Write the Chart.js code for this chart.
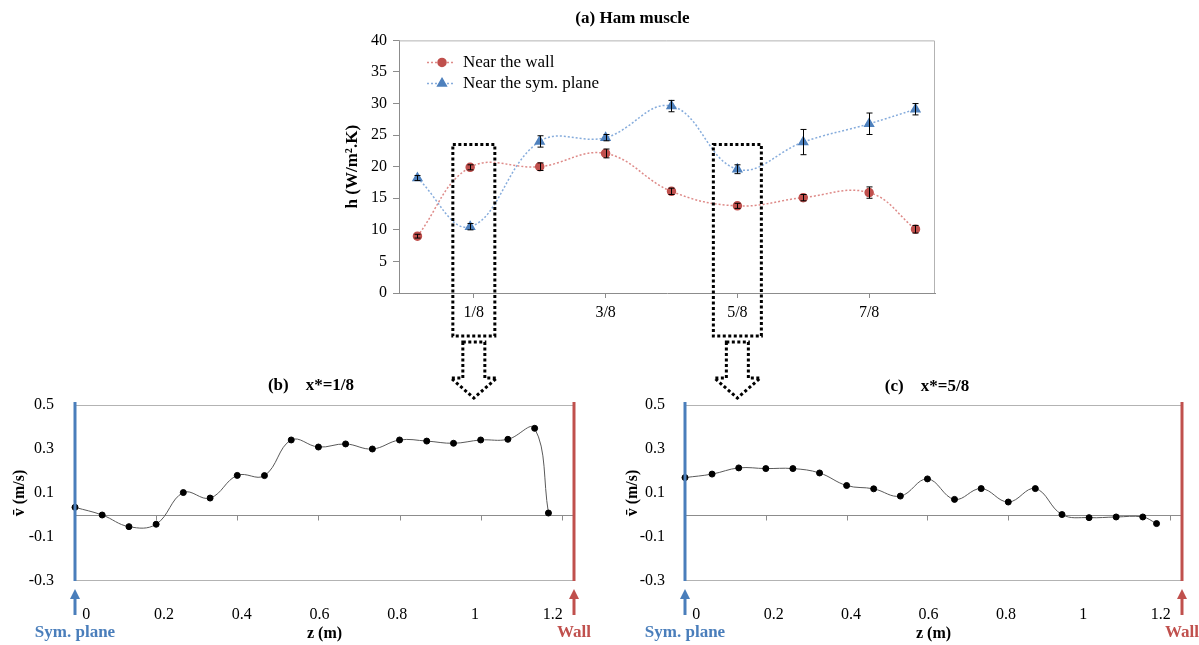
<!DOCTYPE html>
<html>
<head>
<meta charset="utf-8">
<title>Ham muscle - h and mean velocity</title>
<script src="https://cdn.jsdelivr.net/npm/chart.js@4.4.1/dist/chart.umd.min.js"></script>
<style>
    body { margin: 0; background: #fff; width: 1199px; height: 645px; overflow: hidden; position: relative; }
    canvas { position: absolute; }
    #hamChart { left: 330px; top: 0; }
    #cutB { left: 0; top: 370px; }
    #cutC { left: 610px; top: 370px; }
</style>
</head>
<body>
<canvas id="hamChart" width="640" height="400"></canvas>
<canvas id="cutB" width="620" height="275"></canvas>
<canvas id="cutC" width="589" height="275"></canvas>
<script>
const serif = '"Liberation Serif", "Times New Roman", serif';
Chart.defaults.font.family = serif;
Chart.defaults.color = '#000';
Chart.defaults.animation = false;

// (a) heat transfer coefficient along the muscle
const xStar = [0.018, 0.118, 0.25, 0.375, 0.5, 0.625, 0.75, 0.875, 0.963];
const hWall = [9.0, 19.9, 20.0, 22.1, 16.1, 13.8, 15.1, 15.9, 10.1];
const hWallErr = [0.3, 0.4, 0.6, 0.7, 0.5, 0.4, 0.5, 0.9, 0.6];
const hSym = [18.2, 10.5, 24.0, 24.6, 29.6, 19.6, 23.9, 26.8, 29.1];
const hSymErr = [0.4, 0.5, 0.9, 0.5, 0.9, 0.7, 2.0, 1.7, 0.9];
const xStarTicks = [0.125, 0.375, 0.625, 0.875];
const xStarLabels = ['1/8', '3/8', '5/8', '7/8'];
const cutPositions = [0.125, 0.625];

// (b), (c) mean velocity across the width, at x* = 1/8 and x* = 5/8
const zPos = [0, 0.067, 0.133, 0.2, 0.267, 0.333, 0.4, 0.467, 0.533, 0.6,
              0.667, 0.733, 0.8, 0.867, 0.933, 1.0, 1.067, 1.133, 1.167];
const vCut1 = [0.035, 0.0, -0.053, -0.042, 0.102, 0.077, 0.180, 0.179, 0.341, 0.309,
               0.323, 0.300, 0.341, 0.336, 0.326, 0.341, 0.344, 0.394, 0.009];
const vCut5 = [0.170, 0.186, 0.214, 0.211, 0.211, 0.191, 0.134, 0.119, 0.086, 0.164,
               0.071, 0.120, 0.059, 0.120, 0.002, -0.012, -0.009, -0.009, -0.039];
const zTicks = [0, 0.2, 0.4, 0.6, 0.8, 1, 1.2];
const zLabels = ['0', '0.2', '0.4', '0.6', '0.8', '1', '1.2'];
const vTicks = [-0.3, -0.1, 0.1, 0.3, 0.5];
const vLabels = ['-0.3', '-0.1', '0.1', '0.3', '0.5'];

function points(xs, ys) {
    return xs.map((x, i) => ({ x: x, y: ys[i] }));
}

function fixTicks(values) {
    return scale => { scale.ticks = values.map(v => ({ value: v })); };
}

const errorBars = {
    id: 'errorBars',
    afterDatasetsDraw(chart) {
        const { ctx, scales: { x, y } } = chart;
        ctx.save();
        ctx.strokeStyle = '#000';
        ctx.lineWidth = 1;
        chart.data.datasets.forEach(ds => {
            if (!ds.errors) return;
            ds.data.forEach((p, i) => {
                const px = Math.round(x.getPixelForValue(p.x)) + 0.5;
                const top = y.getPixelForValue(p.y + ds.errors[i]);
                const bot = y.getPixelForValue(p.y - ds.errors[i]);
                ctx.beginPath();
                ctx.moveTo(px, top); ctx.lineTo(px, bot);
                ctx.moveTo(px - 3, top); ctx.lineTo(px + 3, top);
                ctx.moveTo(px - 3, bot); ctx.lineTo(px + 3, bot);
                ctx.stroke();
            });
        });
        ctx.restore();
    }
};

const hamExtras = {
    id: 'hamExtras',
    beforeDatasetsDraw(chart) {
        const { ctx, chartArea: a } = chart;
        ctx.save();
        ctx.strokeStyle = '#b3b3b3';
        ctx.lineWidth = 1;
        ctx.beginPath();
        ctx.moveTo(a.left, a.top + 0.5);
        ctx.lineTo(a.right - 0.5, a.top + 0.5);
        ctx.lineTo(a.right - 0.5, a.bottom);
        ctx.stroke();
        ctx.restore();
    },
    afterDraw(chart) {
        const { ctx, chartArea: a, scales: { x, y } } = chart;
        ctx.save();
        // legend inside the plot
        chart.data.datasets.forEach((ds, i) => {
            const ly = a.top + 22 + i * 21;
            ctx.strokeStyle = ds.borderColor;
            ctx.lineWidth = 1.5;
            ctx.setLineDash(ds.borderDash);
            ctx.beginPath();
            ctx.moveTo(a.left + 28, ly);
            ctx.lineTo(a.left + 56, ly);
            ctx.stroke();
            ctx.setLineDash([]);
            ctx.fillStyle = ds.pointBackgroundColor;
            ctx.strokeStyle = ds.pointBorderColor;
            Chart.helpers.drawPoint(ctx, { pointStyle: ds.pointStyle, radius: ds.pointRadius, rotation: 0, borderWidth: 1 }, a.left + 43, ly);
            ctx.fillStyle = '#000';
            ctx.font = '17px ' + serif;
            ctx.textAlign = 'left';
            ctx.textBaseline = 'middle';
            ctx.fillText(ds.label, a.left + 64, ly);
        });
        // dotted frames on the two cuts, with arrows down to (b) and (c)
        ctx.strokeStyle = '#000';
        ctx.lineWidth = 3;
        ctx.setLineDash([3, 2.5]);
        cutPositions.forEach((v, i) => {
            const cx = x.getPixelForValue(v);
            const hw = i === 0 ? 21 : 24;
            const top = y.getPixelForValue(23.5);
            const bot = a.bottom + 43;
            ctx.strokeRect(cx - hw, top, 2 * hw, bot - top);
            const s0 = a.bottom + 49, s1 = a.bottom + 85, tip = a.bottom + 105;
            ctx.beginPath();
            ctx.moveTo(cx - 11, s0);
            ctx.lineTo(cx - 11, s1);
            ctx.lineTo(cx - 23, s1);
            ctx.lineTo(cx, tip);
            ctx.lineTo(cx + 23, s1);
            ctx.lineTo(cx + 11, s1);
            ctx.lineTo(cx + 11, s0);
            ctx.closePath();
            ctx.stroke();
        });
        ctx.restore();
    }
};

const profileExtras = {
    id: 'profileExtras',
    beforeDatasetsDraw(chart) {
        const { ctx, chartArea: a, scales: { x, y } } = chart;
        const y0 = Math.round(y.getPixelForValue(0)) + 0.5;
        ctx.save();
        ctx.strokeStyle = '#b3b3b3';
        ctx.lineWidth = 1;
        ctx.strokeRect(a.left + 0.5, a.top + 0.5, a.width - 1, a.height - 1);
        ctx.strokeStyle = '#8c8c8c';
        ctx.beginPath();
        ctx.moveTo(a.left, y0);
        ctx.lineTo(a.right, y0);
        zTicks.forEach(v => {
            const px = Math.round(x.getPixelForValue(v)) + 0.5;
            ctx.moveTo(px, y0);
            ctx.lineTo(px, y0 + 5);
        });
        ctx.stroke();
        ctx.restore();
    },
    afterDraw(chart, args, opts) {
        const { ctx, chartArea: a } = chart;
        ctx.save();
        [[a.left, '#4a7ebb', 'Sym. plane'], [a.right, '#c0504d', 'Wall']].forEach(([px, color, text]) => {
            ctx.strokeStyle = color;
            ctx.fillStyle = color;
            ctx.lineWidth = 3;
            ctx.beginPath();
            ctx.moveTo(px, a.top - 3);
            ctx.lineTo(px, a.bottom);
            ctx.stroke();
            // upward arrow under the side line
            ctx.beginPath();
            ctx.moveTo(px, a.bottom + 34);
            ctx.lineTo(px, a.bottom + 15);
            ctx.stroke();
            ctx.beginPath();
            ctx.moveTo(px, a.bottom + 8);
            ctx.lineTo(px - 5, a.bottom + 18);
            ctx.lineTo(px + 5, a.bottom + 18);
            ctx.closePath();
            ctx.fill();
            ctx.font = 'bold 17px ' + serif;
            ctx.textAlign = 'center';
            ctx.textBaseline = 'middle';
            ctx.fillText(text, px, a.bottom + 52);
        });
        ctx.fillStyle = '#000';
        ctx.font = 'bold 17px ' + serif;
        ctx.textAlign = 'center';
        ctx.textBaseline = 'middle';
        ctx.fillText(opts.text, opts.x, opts.y);
        ctx.restore();
    }
};

new Chart(document.getElementById('hamChart'), {
    type: 'line',
    data: {
        datasets: [{
            label: 'Near the wall',
            data: points(xStar, hWall),
            errors: hWallErr,
            borderColor: '#de8a88',
            borderDash: [2, 2],
            borderWidth: 1.5,
            tension: 0.4,
            pointStyle: 'circle',
            pointRadius: 4,
            pointBackgroundColor: '#c0504d',
            pointBorderColor: '#c0504d'
        }, {
            label: 'Near the sym. plane',
            data: points(xStar, hSym),
            errors: hSymErr,
            borderColor: '#86acdc',
            borderDash: [2, 2],
            borderWidth: 1.5,
            tension: 0.4,
            pointStyle: 'triangle',
            pointRadius: 5,
            pointBackgroundColor: '#4f81bd',
            pointBorderColor: '#4f81bd'
        }]
    },
    options: {
        responsive: false,
        layout: { padding: { right: 35 } },
        plugins: {
            legend: { display: false },
            tooltip: { enabled: false },
            title: {
                display: true,
                text: '(a) Ham muscle',
                font: { size: 17, weight: 'bold' },
                padding: { top: 8, bottom: 12 }
            }
        },
        scales: {
            x: {
                type: 'linear',
                min: -0.017,
                max: 1.0,
                afterBuildTicks: fixTicks(xStarTicks),
                afterFit: s => { s.height = 107; },
                ticks: { callback: (v, i) => xStarLabels[i], font: { size: 16 }, padding: 5, maxRotation: 0, autoSkip: false },
                grid: { drawOnChartArea: false, tickLength: 5, color: '#8c8c8c' },
                border: { color: '#8c8c8c' }
            },
            y: {
                min: 0,
                max: 40,
                afterFit: s => { s.width = 69; },
                ticks: { stepSize: 5, font: { size: 16 }, padding: 6 },
                grid: { drawOnChartArea: false, tickLength: 6, color: '#8c8c8c' },
                border: { color: '#8c8c8c' },
                title: {
                    display: true,
                    text: 'h (W/m².K)',
                    font: { size: 17, weight: 'bold' },
                    padding: { top: 12 }
                }
            }
        }
    },
    plugins: [errorBars, hamExtras]
});

function profileChart(id, values, opts) {
    return new Chart(document.getElementById(id), {
        type: 'line',
        data: {
            datasets: [{
                data: points(zPos, values),
                xAxisID: 'x',
                yAxisID: 'y',
                borderColor: '#595959',
                borderWidth: 1,
                tension: 0.4,
                clip: false,
                pointRadius: 3,
                pointBackgroundColor: '#000',
                pointBorderColor: '#000'
            }]
        },
        options: {
            responsive: false,
            layout: { padding: { top: 35, right: opts.rightPad } },
            plugins: {
                legend: { display: false },
                tooltip: { enabled: false },
                profileExtras: { text: opts.title, x: opts.titleX, y: opts.titleY }
            },
            scales: {
                x: { type: 'linear', display: false, min: 0, max: 1.23 },
                zl: {
                    type: 'linear',
                    position: 'bottom',
                    min: -0.029,
                    max: 1.255,
                    afterBuildTicks: fixTicks(zTicks),
                    afterFit: s => { s.height = 64; },
                    ticks: { callback: (v, i) => zLabels[i], font: { size: 16 }, padding: 16, maxRotation: 0, autoSkip: false },
                    grid: { display: false },
                    border: { display: false },
                    title: { display: true, text: 'z (m)', font: { size: 16, weight: 'bold' }, padding: { top: 0, bottom: 2 } }
                },
                y: {
                    min: -0.3,
                    max: 0.5,
                    afterBuildTicks: fixTicks(vTicks),
                    afterFit: s => { s.width = opts.yWidth; },
                    ticks: { callback: (v, i) => vLabels[i], font: { size: 16 }, padding: opts.tickPad },
                    grid: { display: false },
                    border: { display: false },
                    title: { display: true, text: 'v\u0304 (m/s)', font: { size: 16, weight: 'bold' }, padding: { top: opts.yTitlePad } }
                }
            }
        },
        plugins: [profileExtras]
    });
}

profileChart('cutB', vCut1, { title: '(b)    x*=1/8', titleX: 311, titleY: 16, rightPad: 46, yWidth: 75, tickPad: 13, yTitlePad: 10 });
profileChart('cutC', vCut5, { title: '(c)    x*=5/8', titleX: 317, titleY: 17, rightPad: 17, yWidth: 75, tickPad: 12, yTitlePad: 13 });
</script>
</body>
</html>
